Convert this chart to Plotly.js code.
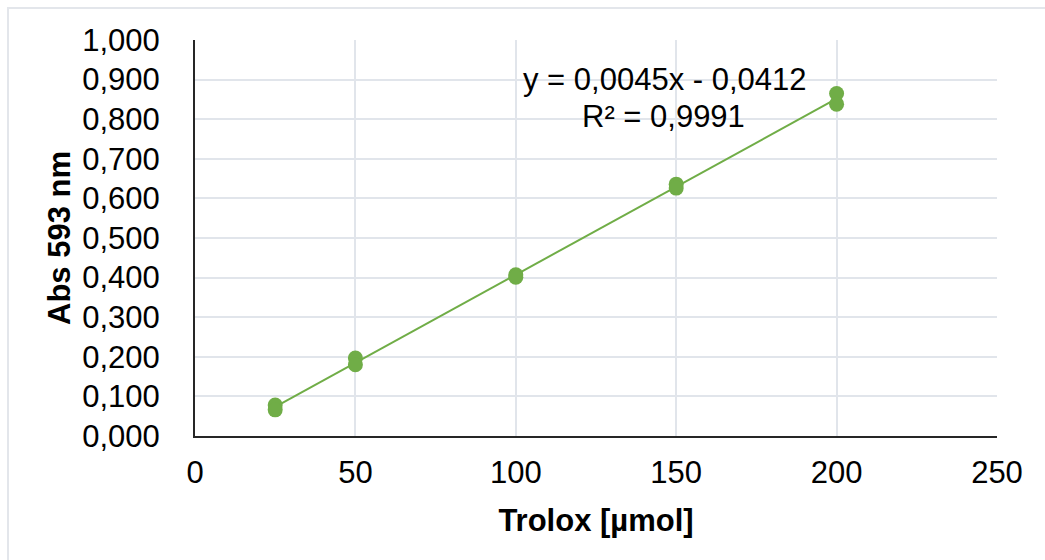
<!DOCTYPE html>
<html>
<head>
<meta charset="utf-8">
<script src="https://cdn.plot.ly/plotly-3.0.1.min.js"></script>
<style>
  html, body { margin: 0; padding: 0; background: #fff; }
  #wrap { position: relative; width: 1045px; height: 560px; overflow: hidden; }
  #chart { width: 1045px; height: 560px; }
  #frame { position: absolute; left: 7px; top: 7px; width: 1100px; height: 600px;
           border: 2px solid #E3E6EB; pointer-events: none; box-sizing: border-box; }
</style>
</head>
<body>
<div id="wrap">
  <div id="chart"></div>
  <div id="frame"></div>
</div>
<script>
// Data
const troloxUmol = [25, 25, 50, 50, 100, 100, 150, 150, 200, 200];
const abs593 = [0.078, 0.066, 0.197, 0.180, 0.407, 0.401, 0.636, 0.626, 0.865, 0.838];
const equationText = "y = 0,0045x - 0,0412";
const r2Text = "R² = 0,9991";
const xTicks = [0, 50, 100, 150, 200, 250];
const yTicks = [0, 0.1, 0.2, 0.3, 0.4, 0.5, 0.6, 0.7, 0.8, 0.9, 1.0];

// Linear least-squares trendline computed from the data
const n = troloxUmol.length;
const mx = troloxUmol.reduce((a, b) => a + b, 0) / n;
const my = abs593.reduce((a, b) => a + b, 0) / n;
let sxy = 0, sxx = 0;
for (let i = 0; i < n; i++) {
  sxy += (troloxUmol[i] - mx) * (abs593[i] - my);
  sxx += (troloxUmol[i] - mx) ** 2;
}
const slope = sxy / sxx;
const intercept = my - slope * mx;
const xMin = Math.min(...troloxUmol), xMax = Math.max(...troloxUmol);
const trendX = [xMin, xMax];
const trendY = trendX.map(x => slope * x + intercept);

const green = '#70AD47';
const font = 'Liberation Sans, Arial, sans-serif';

const traces = [
  {
    x: trendX, y: trendY, type: 'scatter', mode: 'lines',
    line: { color: green, width: 2 }, hoverinfo: 'skip', showlegend: false
  },
  {
    x: troloxUmol, y: abs593, type: 'scatter', mode: 'markers',
    marker: { color: green, size: 15, line: { width: 0 } }, showlegend: false
  }
];

const layout = {
  width: 1045, height: 560,
  margin: { l: 195, r: 48, t: 40, b: 124, pad: 0 },
  paper_bgcolor: '#ffffff', plot_bgcolor: '#ffffff',
  separators: ', ',
  font: { family: font, color: '#000000', size: 30 },
  showlegend: false,
  xaxis: {
    range: [0, 250], tickvals: xTicks, ticktext: xTicks.map(String),
    showgrid: true, gridcolor: '#E1E5EB', gridwidth: 2,
    zeroline: false, showline: true, linecolor: '#262626', linewidth: 2,
    ticks: '', ticklabelstandoff: 8,
    tickfont: { family: font, size: 31, color: '#000' },
    title: { text: '<b>Trolox [µmol]</b>', font: { family: font, size: 31, color: '#000' }, standoff: 20 },
    automargin: false, fixedrange: true
  },
  yaxis: {
    range: [0, 1.0], tickvals: yTicks, tickformat: '.3f',
    showgrid: true, gridcolor: '#E1E5EB', gridwidth: 2,
    zeroline: false, showline: true, linecolor: '#262626', linewidth: 2,
    ticks: '', ticklabelstandoff: 27,
    tickfont: { family: font, size: 31, color: '#000' },
    title: { text: '<b>Abs 593 nm</b>', font: { family: font, size: 31, color: '#000' }, standoff: 2 },
    automargin: false, fixedrange: true
  },
  annotations: [
    { text: equationText, x: 146.5, y: 0.900, xref: 'x', yref: 'y',
      showarrow: false, xanchor: 'center', yanchor: 'middle',
      font: { family: font, size: 31, color: '#000' } },
    { text: r2Text, x: 146.0, y: 0.806, xref: 'x', yref: 'y',
      showarrow: false, xanchor: 'center', yanchor: 'middle',
      font: { family: font, size: 31, color: '#000' } }
  ]
};

Plotly.newPlot('chart', traces, layout, { displayModeBar: false, staticPlot: true });
</script>
</body>
</html>
